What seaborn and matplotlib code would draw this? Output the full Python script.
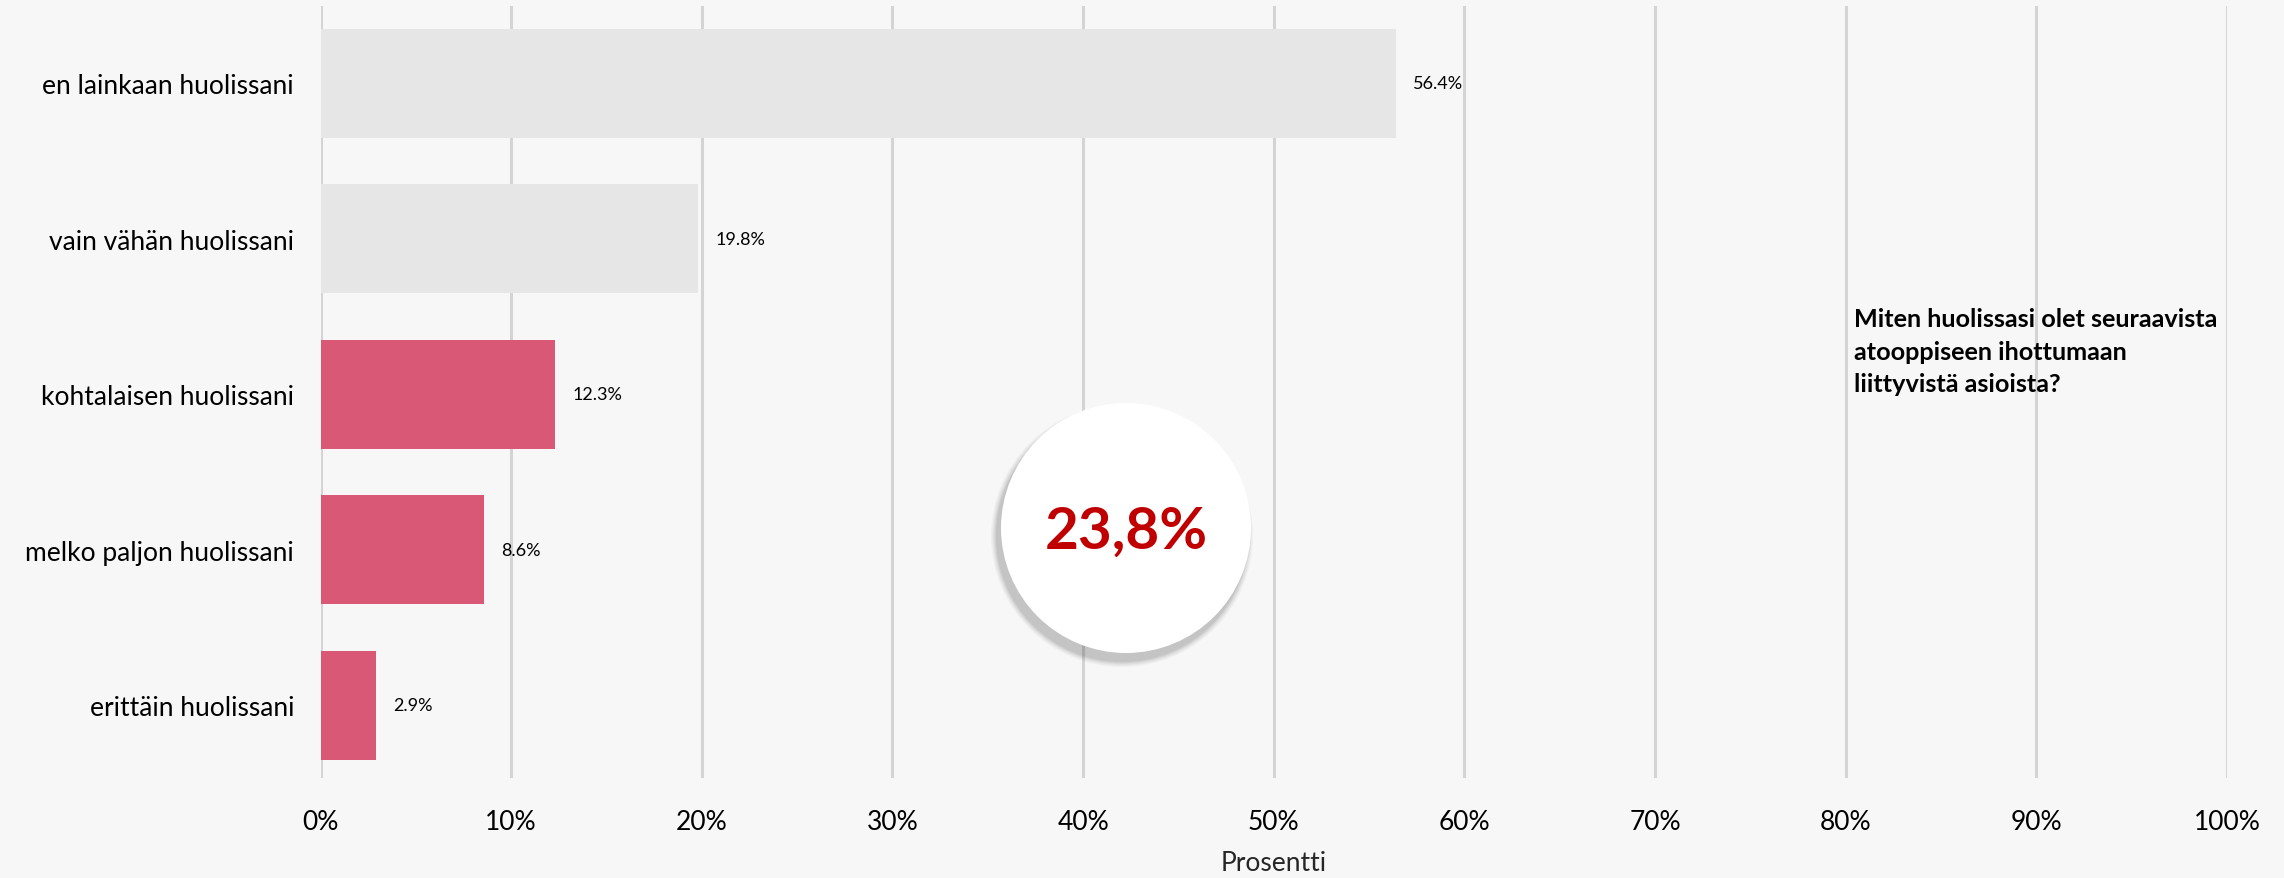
import matplotlib
matplotlib.use("Agg")
import matplotlib.pyplot as plt
import seaborn as sns
import pandas as pd
from matplotlib.patches import Ellipse
from matplotlib.ticker import PercentFormatter
from matplotlib.transforms import IdentityTransform

categories = ["en lainkaan huolissani", "vain vähän huolissani", "kohtalaisen huolissani",
              "melko paljon huolissani", "erittäin huolissani"]
values = [56.4, 19.8, 12.3, 8.6, 2.9]
bar_colors = ["#E6E6E6", "#E6E6E6", "#D95876", "#D95876", "#D95876"]
ticks = [0, 10, 20, 30, 40, 50, 60, 70, 80, 90, 100]
highlight = "23,8%"
question = "Miten huolissasi olet seuraavista\natooppiseen ihottumaan\nliittyvistä asioista?"
xlabel = "Prosentti"

sns.set_theme(style="white")
plt.rcParams["font.family"] = ["Lato", "DejaVu Sans"]

BG = "#F7F7F7"
W, H = 2284, 879
fig = plt.figure(figsize=(W / 100, H / 100), dpi=100, facecolor=BG)
ax = fig.add_axes([320.5 / W, 100 / H, (2227 - 320.5) / W, (779 - 7) / H])
ax.set_facecolor(BG)

df = pd.DataFrame({"cat": categories, "val": values})
sns.barplot(data=df, x="val", y="cat", hue="cat", palette=bar_colors, legend=False,
            orient="h", width=0.7, ax=ax, saturation=1, zorder=3, linewidth=0)

ax.set_xlim(0, 100)
ax.set_ylim(4.468, -0.496)
ax.set_xticks(ticks)
ax.xaxis.set_major_formatter(PercentFormatter(decimals=0))
ax.grid(axis="x", color="#D4D4D4", linewidth=2.2, zorder=0)
ax.set_axisbelow(True)
for s in ax.spines.values():
    s.set_visible(False)
ax.tick_params(axis="x", length=0, labelsize=19, pad=22, colors="black")
ax.tick_params(axis="y", length=0, labelsize=19, pad=19, colors="black")
ax.set_ylabel("")
ax.set_xlabel(xlabel, fontsize=19, labelpad=12)

for i, v in enumerate(values):
    ax.text(v + 0.9, i, f"{v:.1f}%", va="center", ha="left", fontsize=13, color="black", zorder=4)

# highlight circle with shadow (pixel coordinates)
cx, cy, r = 1126, H - 529, 125
for k, a in enumerate([0.03, 0.03, 0.04, 0.05, 0.06]):
    rr = r + 6 - k * 1.2
    fig.patches.append(Ellipse((cx - 4, cy - 8), 2 * rr, 2 * rr, transform=IdentityTransform(),
                               facecolor="black", alpha=a, edgecolor="none", zorder=5))
fig.patches.append(Ellipse((cx, cy), 2 * r, 2 * r, transform=IdentityTransform(),
                           facecolor="white", edgecolor="none", zorder=6))
fig.text(cx / W, (cy - 3) / H, highlight, ha="center", va="center", fontsize=42,
         fontweight="bold", color="#C00000", zorder=7)

fig.text(1854 / W, 1 - 352 / H, question, ha="left", va="center", fontsize=18.2,
         fontweight="bold", color="black", linespacing=1.5)

fig.savefig("out.png", dpi=100, facecolor=BG)
